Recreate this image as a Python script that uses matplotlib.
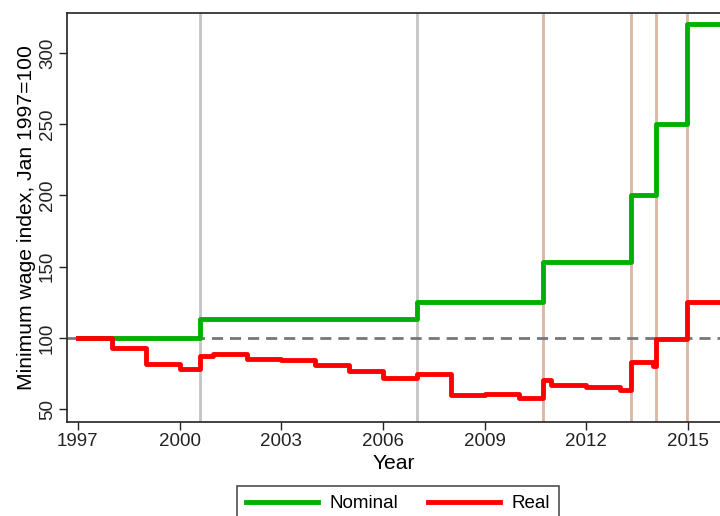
import numpy as np
import matplotlib
matplotlib.use("Agg")
import matplotlib.pyplot as plt

# minimum wage index, Jan 1997 = 100 (step changes)
nominal_dates = [1997.0, 2000.6, 2007.0, 2010.72, 2013.31, 2014.05, 2014.96, 2016.0]
nominal_vals = [100, 113, 125, 153, 200, 250, 320, 320]

real_dates = [1997.0, 1998.0, 1999.0, 2000.0, 2000.6, 2001.0, 2002.0, 2003.0,
              2004.0, 2005.0, 2006.0, 2007.0, 2008.0, 2009.0, 2010.0, 2010.72,
              2010.95, 2012.0, 2013.0, 2013.31, 2013.97, 2014.05, 2014.96, 2016.0]
real_vals = [100, 93, 82, 78, 87.6, 88.6, 85.5, 84.2,
             81.3, 77, 72, 74.8, 59.7, 60.4, 57.8, 70.6,
             67.2, 65.5, 63.2, 83, 80, 99, 125, 125]

# reform dates (vertical markers)
gray_events = [2000.6, 2007.0]
tan_events = [2010.72, 2013.31, 2014.05, 2014.96]

xticks = [1997, 2000, 2003, 2006, 2009, 2012, 2015]
yticks = [50, 100, 150, 200, 250, 300]

plt.rcParams['font.family'] = ['Liberation Sans', 'DejaVu Sans']
fs = 13.5
title_fs = 15.2

fig = plt.figure(figsize=(7.2, 5.16), dpi=100)
ax = fig.add_axes([0.093, 0.182, 0.907, 0.793])

for d in gray_events:
    ax.axvline(d, color='#c4c4c4', lw=2, zorder=1)
for d in tan_events:
    ax.axvline(d, color='#dbb6a3', lw=2, zorder=1)

ax.axhline(100, color='#777777', lw=2, dashes=(4, 2.5), zorder=2)

ax.plot(nominal_dates, nominal_vals, drawstyle='steps-post', color='#00b000',
        lw=3.5, label='Nominal', zorder=3)
ax.plot(real_dates, real_vals, drawstyle='steps-post', color='#ff0000',
        lw=3.5, label='Real', zorder=4)

ax.set_xlim(1996.68, 2015.94)
ax.set_ylim(41, 328)
ax.set_xticks(xticks)
ax.set_yticks(yticks)
ax.tick_params(axis='both', direction='out', length=6, width=1, labelsize=fs,
               colors='#222222')
ax.tick_params(axis='x', pad=1.5)
ax.tick_params(axis='y', pad=2)
for lab in ax.get_yticklabels():
    lab.set_rotation(90)
    lab.set_va('center')

ax.spines['right'].set_visible(False)
for s in ['left', 'bottom', 'top']:
    ax.spines[s].set_color('#222222')
    ax.spines[s].set_linewidth(1.2)

ax.set_xlabel('Year', fontsize=title_fs, labelpad=3)
ax.set_ylabel('Minimum wage index, Jan 1997=100', fontsize=title_fs, labelpad=2)

leg = fig.legend(loc='upper left', bbox_to_anchor=(237 / 720, 1 - 486 / 516),
                 ncol=2, fontsize=fs, frameon=True, fancybox=False,
                 handlelength=3.84, handletextpad=0.59, columnspacing=1.6,
                 borderpad=0.5, borderaxespad=0)
leg.get_frame().set_edgecolor('#222222')
leg.get_frame().set_linewidth(1.2)

fig.savefig('out.png', dpi=100)
